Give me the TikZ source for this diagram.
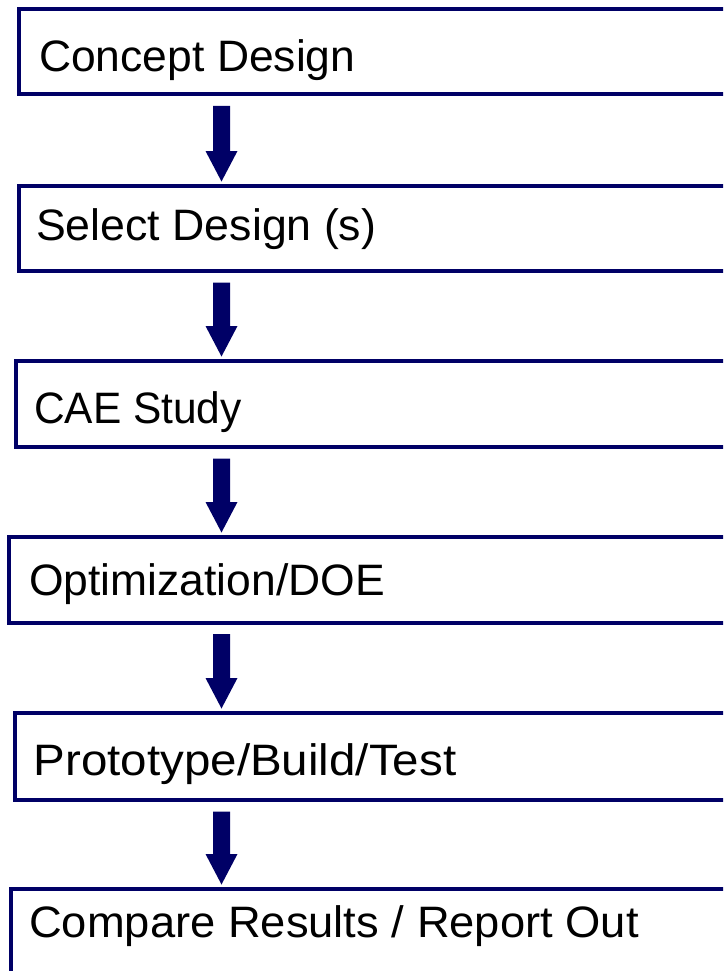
\documentclass[tikz,border=0pt]{standalone}
\usepackage{fontspec}
\usepackage{graphicx}
\newfontfamily\stepfont{Liberation Sans}
\usetikzlibrary{calc}
\definecolor{flownavy}{RGB}{0,0,102}

% block arrow from the bottom of one box to the top of the next
\newcommand\linkboxes[2]{%
  \fill[flownavy] let \p1=(#1.south -| ax), \p2=(#2.north -| ax) in
    ({\x1-8.5pt},{\y1-9.5pt}) -- ({\x1+8.5pt},{\y1-9.5pt}) --
    ({\x1+8.5pt},{\y2+32.5pt}) -- ({\x1+16pt},{\y2+32.5pt}) --
    ({\x1},{\y2+2pt}) --
    ({\x1-16pt},{\y2+32.5pt}) -- ({\x1-8.5pt},{\y2+32.5pt}) -- cycle;}
% horizontally widened label text
\newcommand\widetext[2]{\scalebox{#1}[1]{#2}}

\begin{document}
\begin{tikzpicture}[x=1pt,y=-1pt,
  stepbox/.style={draw=flownavy, line width=4pt, fill=white, rectangle,
    anchor=north west, minimum width=760pt, minimum height=#1, inner sep=0pt},
  steplabel/.style={anchor=base west, inner sep=0pt, text=black,
    font=\stepfont\fontsize{44}{52}\selectfont}]
\useasboundingbox (0,0) rectangle (723,971);
\clip (0,0) rectangle (723,971);

\coordinate (ax) at (221.5,0);

% process steps
\node[stepbox=85pt]  (b1) at (17,7.5)   {};
\node[stepbox=85.5pt](b2) at (16.5,183.5) {};
\node[stepbox=86.5pt](b3) at (14,358.5) {};
\node[stepbox=86pt]  (b4) at (7,534.5)  {};
\node[stepbox=87.5pt](b5) at (13,710.5) {};
\node[stepbox=120pt] (b6) at (9,886.5)  {};

\node[steplabel] (t1) at (39,71.5) {\widetext{1.01}{Concept Design}};
\node[steplabel] (t2) at (36,240)  {\widetext{1.015}{Select Design (s)}};
\node[steplabel] (t3) at (34,423)  {\widetext{0.965}{CAE Study}};
\node[steplabel] (t4) at (29,595)  {\widetext{1.01}{Optimization/DOE}};
\node[steplabel] (t5) at (33.5,775){\widetext{1.08}{Prototype/Build/Test}};
\node[steplabel] (t6) at (29,937)  {\widetext{1.03}{Compare Results / Report Out}};

% flow arrows
\linkboxes{b1}{b2}
\linkboxes{b2}{b3}
\linkboxes{b3}{b4}
\linkboxes{b4}{b5}
\linkboxes{b5}{b6}
\end{tikzpicture}
\end{document}
